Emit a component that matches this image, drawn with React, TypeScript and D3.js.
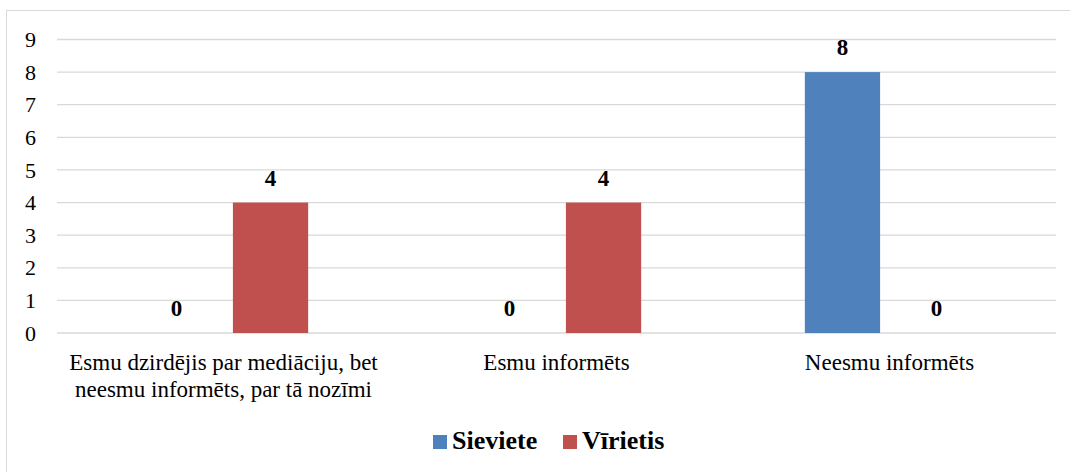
import React from "react";
import * as d3 from "d3";

// Chart data
const categories: string[][] = [
  ["Esmu dzirdējis par mediāciju, bet", "neesmu informēts, par tā nozīmi"],
  ["Esmu informēts"],
  ["Neesmu informēts"],
];
const seriesNames = ["Sieviete", "Vīrietis"];
const sieviete = [0, 0, 8];
const virietis = [4, 4, 0];
const colors = ["#4F81BD", "#C0504D"];
const yTicks = [0, 1, 2, 3, 4, 5, 6, 7, 8, 9];

const width = 1070;
const height = 472;
const margin = { left: 57, right: 14, top: 39.5, bottom: 139 };
const font = "'Times New Roman', Tinos, 'Liberation Serif', 'DejaVu Serif', serif";

const App: React.FC = () => {
  const innerW = width - margin.left - margin.right;
  const y = d3.scaleLinear().domain([0, 9]).range([height - margin.bottom, margin.top]);
  const x0 = d3
    .scaleBand<number>()
    .domain(categories.map((_, i) => i))
    .range([margin.left, margin.left + innerW]);
  const x1 = d3
    .scaleBand<number>()
    .domain([0, 1])
    .range([0, x0.bandwidth()])
    .paddingInner(0.2)
    .paddingOuter(0.87);

  const values = [sieviete, virietis];
  const txt = { fontFamily: font };

  return (
    <svg
      width={width}
      height={height}
      style={{ position: "absolute", left: 0, top: 0, background: "#fff", fontFamily: font }}
    >
      <rect x={6.5} y={10.5} width={1200} height={600} fill="#fff" stroke="#D9D9D9" />
      {/* gridlines */}
      {yTicks.map((t) => (
        <line
          key={t}
          x1={margin.left}
          x2={margin.left + innerW}
          y1={y(t)}
          y2={y(t)}
          stroke="#D9D9D9"
          strokeWidth={1.3}
        />
      ))}
      {/* y tick labels */}
      {yTicks.map((t) => (
        <text key={t} x={36} y={y(t)} dy="0.35em" textAnchor="end" fontSize={22} fill="#000" style={txt}>
          {t}
        </text>
      ))}
      {/* bars */}
      {values.map((vals, s) =>
        vals.map((v, i) => {
          const bx = (x0(i) ?? 0) + (x1(s) ?? 0);
          return (
            <g key={`${s}-${i}`}>
              <rect
                x={bx}
                y={y(v)}
                width={x1.bandwidth()}
                height={y(0) - y(v)}
                fill={colors[s]}
              />
              <text
                x={bx + x1.bandwidth() / 2}
                y={y(v) - 17}
                textAnchor="middle"
                fontSize={23}
                fontWeight="bold"
                fill="#000"
                style={txt}
              >
                {v}
              </text>
            </g>
          );
        })
      )}
      {/* category labels */}
      {categories.map((lines, i) => (
        <text
          key={i}
          x={(x0(i) ?? 0) + x0.bandwidth() / 2}
          y={370}
          textAnchor="middle"
          fontSize={23}
          fill="#000"
          style={txt}
        >
          {lines.map((l, j) => (
            <tspan key={j} x={(x0(i) ?? 0) + x0.bandwidth() / 2} dy={j === 0 ? 0 : 26.7}>
              {l}
            </tspan>
          ))}
        </text>
      ))}
      {/* legend */}
      <g>
        {seriesNames.map((n, i) => {
          const lx = [433, 563][i];
          return (
            <g key={n}>
              <rect x={lx} y={435} width={14} height={14} fill={colors[i]} />
              <text x={lx + 19} y={449} fontSize={26} fontWeight="bold" fill="#000" style={txt}>
                {n}
              </text>
            </g>
          );
        })}
      </g>
    </svg>
  );
};

export default App;
